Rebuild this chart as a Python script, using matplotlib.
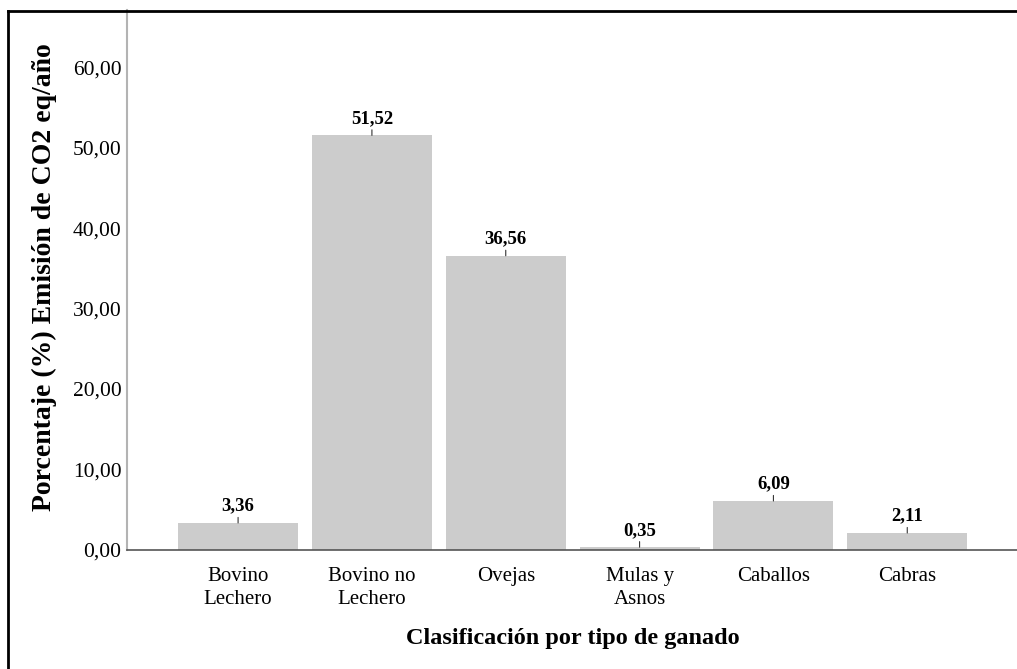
import matplotlib.pyplot as plt
from matplotlib.lines import Line2D

categorias = ['Bovino\nLechero', 'Bovino no\nLechero', 'Ovejas', 'Mulas y\nAsnos', 'Caballos', 'Cabras']
porcentajes = [3.36, 51.52, 36.56, 0.35, 6.09, 2.11]
yticks = [0, 10, 20, 30, 40, 50, 60]


def fmt(v):
    return f'{v:.2f}'.replace('.', ',')


plt.rcParams['font.family'] = ['Liberation Serif', 'DejaVu Serif']

fig = plt.figure(figsize=(10.17, 6.69), dpi=100)
ax = fig.add_axes([127 / 1017, 119 / 669, 890 / 1017, 540 / 669])

x = list(range(len(categorias)))
ax.bar(x, porcentajes, width=0.897, color='#cccccc', zorder=2)

for xi, v in zip(x, porcentajes):
    ax.annotate(fmt(v), xy=(xi, v), xytext=(0, 6), textcoords='offset points',
                ha='center', va='bottom', fontsize=13.5, fontweight='bold',
                arrowprops=dict(arrowstyle='-', lw=0.8, color='#333333',
                                shrinkA=0, shrinkB=0))

ax.set_xlim(-0.83, 5.82)
ax.set_ylim(0, 67.1)
ax.set_yticks(yticks)
ax.set_yticklabels([fmt(t) for t in yticks], fontsize=15.5)
ax.set_xticks(x)
ax.set_xticklabels(categorias, fontsize=15, linespacing=1.3)
ax.tick_params(length=0)
ax.tick_params(axis='x', pad=12)
ax.tick_params(axis='y', pad=4)

for s in ['top', 'right']:
    ax.spines[s].set_visible(False)
ax.spines['left'].set_color('#b3b3b3')
ax.spines['left'].set_linewidth(1.5)
ax.spines['bottom'].set_color('#555555')
ax.spines['bottom'].set_linewidth(1.2)

ax.set_ylabel('Porcentaje (%) Emisión de CO2 eq/año', fontsize=20, fontweight='bold')
ax.yaxis.set_label_coords(-70 / 890, 0.505)
ax.set_xlabel('Clasificación por tipo de ganado', fontsize=17.5, fontweight='bold')
ax.xaxis.set_label_coords((573 - 127) / 890, -(628 - 550) / 540)

# marco negro de la imagen original
fig.add_artist(Line2D([8 / 1017, 8 / 1017], [0, 1 - 11 / 669], color='black', lw=2))
fig.add_artist(Line2D([8 / 1017, 1], [1 - 11 / 669, 1 - 11 / 669], color='black', lw=2))

fig.savefig('out.png', dpi=100)
